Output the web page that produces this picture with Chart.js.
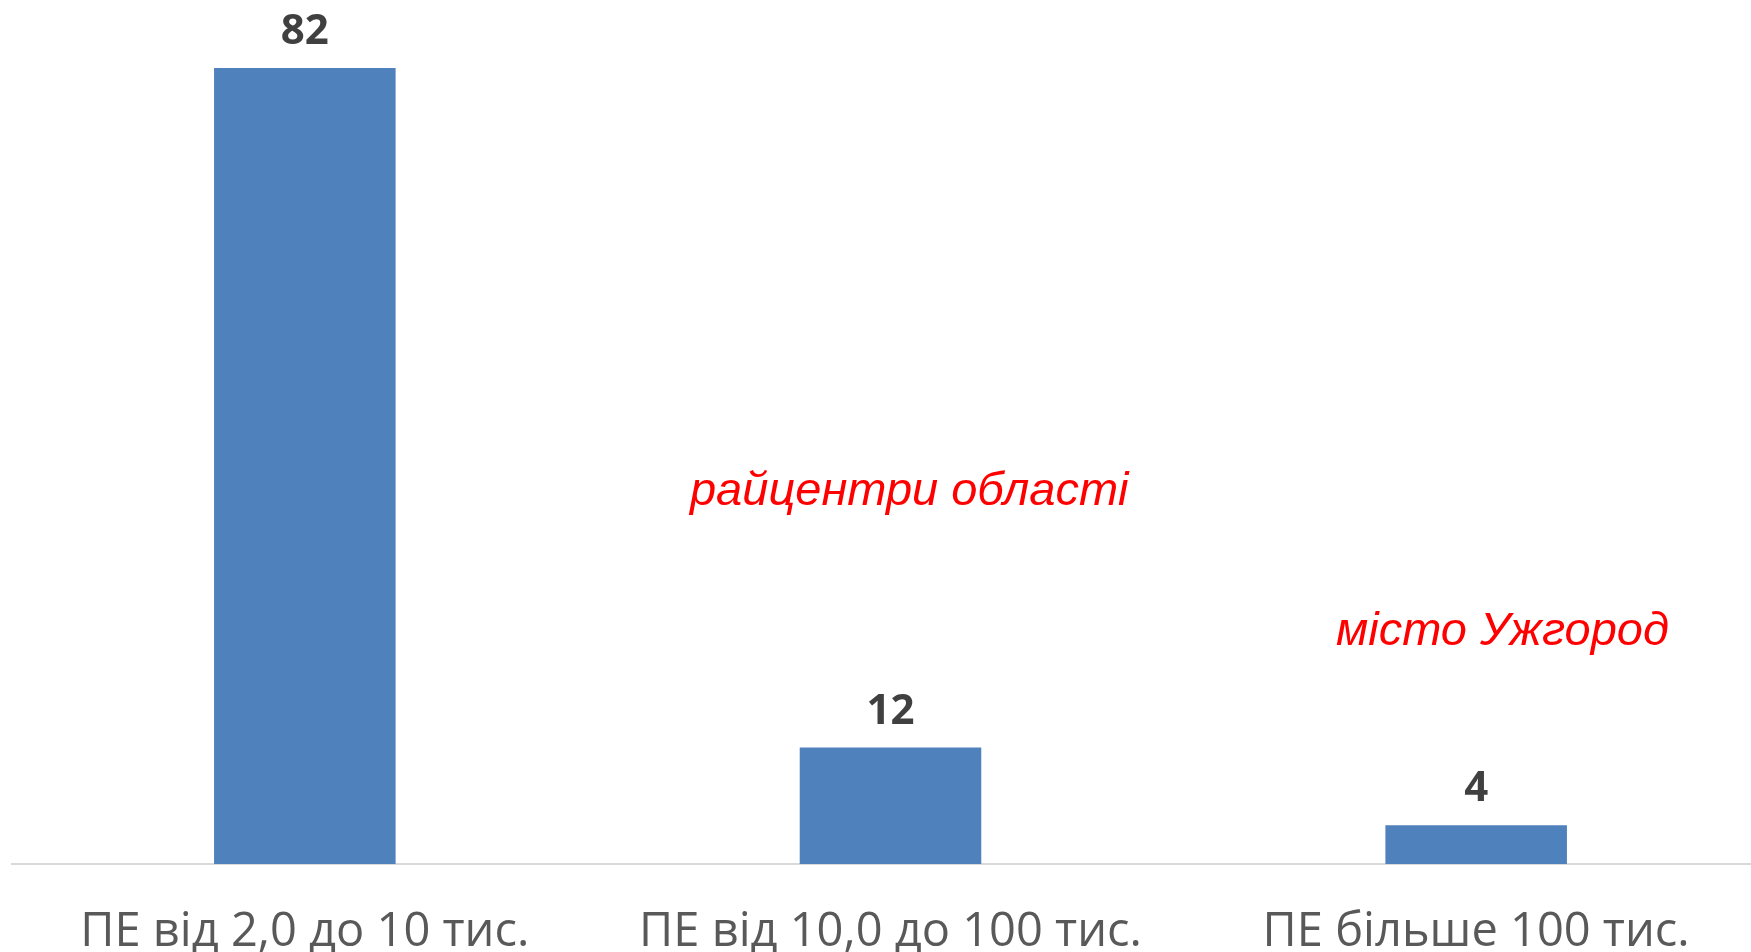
<!DOCTYPE html>
<html>
<head>
<meta charset="utf-8">
<script src="https://cdn.jsdelivr.net/npm/chart.js@4.4.0/dist/chart.umd.min.js"></script>
<style>
    html, body { margin: 0; padding: 0; background: #fff; }
    .wrap { width: 1751px; height: 952px; overflow: hidden; position: relative; }
    .wrap canvas { position: absolute; left: 0; top: 0; }
</style>
</head>
<body>
<div class="wrap">
    <canvas class="my-chart" width="1769" height="952" style="width:1769px;height:952px"></canvas>
</div>
<script>
const categories = ["ПЕ від 2,0 до 10 тис.", "ПЕ від 10,0 до 100 тис.", "ПЕ більше 100 тис."];
const values = [82, 12, 4];

// red notes placed in data space (category position, value)
const noteTexts = ["райцентри області", "місто Ужгород"];
const noteX = [1.032, 2.045];
const noteY = [37, 22.6];

const barLabels = {
    id: "barLabels",
    afterDatasetsDraw(chart) {
        const ctx = chart.ctx;
        const meta = chart.getDatasetMeta(0);
        ctx.save();
        ctx.font = "bold 42px 'Open Sans'";
        ctx.fillStyle = "#404040";
        ctx.textAlign = "center";
        ctx.textBaseline = "alphabetic";
        meta.data.forEach((bar, i) => {
            ctx.fillText(values[i], bar.x, bar.y - 24);
        });
        ctx.restore();
    }
};

const notes = {
    id: "notes",
    afterDraw(chart) {
        const ctx = chart.ctx;
        const xs = chart.scales.x;
        const ys = chart.scales.y;
        ctx.save();
        ctx.font = "italic 47px 'Liberation Sans'";
        ctx.fillStyle = "#ff0000";
        ctx.textAlign = "center";
        ctx.textBaseline = "alphabetic";
        noteTexts.forEach((t, i) => {
            ctx.fillText(t, xs.getPixelForValue(noteX[i]), ys.getPixelForValue(noteY[i]));
        });
        ctx.restore();
    }
};

const myChart = document.querySelector(".my-chart");

new Chart(myChart, {
    type: "bar",
    data: {
        labels: categories,
        datasets: [
            {
                data: values,
                backgroundColor: "#4f81bd",
                barPercentage: 0.62,
                categoryPercentage: 0.5,
            },
        ],
    },
    options: {
        responsive: false,
        animation: false,
        layout: {
            padding: { left: 12, right: 0, top: 0, bottom: 0 },
        },
        scales: {
            x: {
                grid: { display: false },
                border: { display: true, color: "#d9d9d9", width: 2 },
                ticks: {
                    color: "#595959",
                    font: { family: "'Open Sans'", size: 47 },
                    padding: 32,
                    maxRotation: 0,
                    autoSkip: false,
                },
                afterFit(scale) {
                    scale.height = 88;
                },
            },
            y: {
                display: false,
                min: 0,
                max: 89,
            },
        },
        plugins: {
            legend: { display: false },
            tooltip: { enabled: false },
        },
    },
    plugins: [barLabels, notes],
});
</script>
</body>
</html>
